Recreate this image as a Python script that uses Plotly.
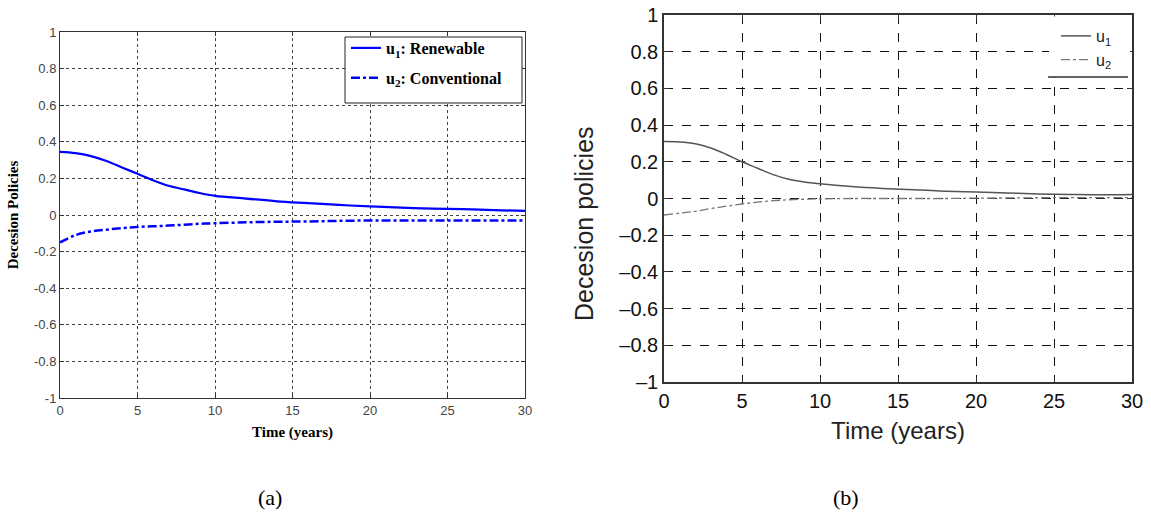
import plotly.graph_objects as go

# ---- data ----
t = [0, 1, 2, 3, 4, 5, 6, 7, 8, 9, 10, 12, 14, 16, 18, 20, 22, 24, 26, 28, 30]

a_u1 = [0.345, 0.338, 0.322, 0.295, 0.26, 0.225, 0.19, 0.16, 0.14, 0.12, 0.105,
        0.09, 0.075, 0.065, 0.055, 0.047, 0.04, 0.035, 0.032, 0.027, 0.022]
a_u2 = [-0.15, -0.11, -0.09, -0.08, -0.072, -0.065, -0.062, -0.058, -0.053, -0.048, -0.045,
        -0.04, -0.037, -0.035, -0.032, -0.03, -0.03, -0.03, -0.03, -0.03, -0.03]

b_u1 = [0.31, 0.308, 0.298, 0.275, 0.24, 0.20, 0.165, 0.13, 0.105, 0.09, 0.08,
        0.065, 0.055, 0.048, 0.04, 0.035, 0.03, 0.025, 0.022, 0.02, 0.022]
b_u2 = [-0.09, -0.08, -0.07, -0.055, -0.042, -0.03, -0.02, -0.012, -0.007, -0.004, -0.002,
        0.0, 0.0, 0.0, 0.0, 0.002, 0.003, 0.004, 0.005, 0.005, 0.005]

x_ticks = [0, 5, 10, 15, 20, 25, 30]
y_ticks = [-1, -0.8, -0.6, -0.4, -0.2, 0, 0.2, 0.4, 0.6, 0.8, 1]
y_ticktext = ["-1", "-0.8", "-0.6", "-0.4", "-0.2", "0", "0.2", "0.4", "0.6", "0.8", "1"]
y_ticktext_b = ["\u20131", "\u20130.8", "\u20130.6", "\u20130.4", "\u20130.2", "0", "0.2", "0.4", "0.6", "0.8", "1"]

# the page body margin is removed (see post_script), so the figure fills the window
OFF = 0
W, H = 1151 - OFF, 518 - OFF

def px_x(p):
    return (p - OFF) / W

def px_y(p):
    return 1 - (p - OFF) / H

fig = go.Figure()

# (a)
fig.add_trace(go.Scatter(x=t, y=a_u1, mode="lines", line=dict(color="#0000ff", width=2.2, shape="spline"),
                         name="<b>u<sub>1</sub>: Renewable</b>", xaxis="x", yaxis="y",
                         legend="legend", legendgroup="a1"))
fig.add_trace(go.Scatter(x=t, y=a_u2, mode="lines", line=dict(color="#0000ff", width=2.5, dash="dashdot", shape="spline"),
                         name="<b>u<sub>2</sub>: Conventional</b>", xaxis="x", yaxis="y",
                         legend="legend", legendgroup="a2"))
# (b)
fig.add_trace(go.Scatter(x=t, y=b_u1, mode="lines", line=dict(color="#555555", width=1.5, shape="spline"),
                         name="u<sub>1</sub>", xaxis="x2", yaxis="y2", legend="legend2"))
fig.add_trace(go.Scatter(x=t, y=b_u2, mode="lines", line=dict(color="#777777", width=1.3, dash="dashdot", shape="spline"),
                         name="u<sub>2</sub>", xaxis="x2", yaxis="y2", legend="legend2"))

left_font = dict(family="Liberation Sans, Arial", size=13, color="#444444")
right_font = dict(family="Liberation Sans, Arial", size=20, color="#111111")

common_left = dict(showgrid=True, gridcolor="#444444", griddash="dot", gridwidth=1,
                   showline=True, linecolor="#333333", linewidth=1, mirror="ticks",
                   ticks="inside", ticklen=4, tickcolor="#333333",
                   tickfont=left_font, zeroline=False, automargin=False,
                   ticklabeloverflow="allow")
common_right = dict(showgrid=True, gridcolor="#111111", griddash="dash", gridwidth=1,
                    showline=True, linecolor="#333333", linewidth=1.5, mirror="ticks",
                    ticks="inside", ticklen=5, tickcolor="#333333",
                    tickfont=right_font, zeroline=False, automargin=False,
                    ticklabeloverflow="allow")

fig.update_layout(
    width=W, height=H,
    margin=dict(l=0, r=0, t=0, b=0),
    paper_bgcolor="white", plot_bgcolor="white",
    xaxis=dict(domain=[px_x(60), px_x(525)], range=[0, 30], tickvals=x_ticks, anchor="y",
               title=dict(text="<b>Time (years)</b>", font=dict(family="Liberation Serif, Times New Roman", size=15, color="#000000"), standoff=9),
               **common_left),
    yaxis=dict(domain=[px_y(398), px_y(32)], range=[-1, 1], tickvals=y_ticks, ticktext=y_ticktext, anchor="x",
               title=dict(text="<b>Decesion Policies</b>", font=dict(family="Liberation Serif, Times New Roman", size=15, color="#000000"), standoff=11),
               **common_left),
    xaxis2=dict(domain=[px_x(664), px_x(1132)], range=[0, 30], tickvals=x_ticks, anchor="y2",
                title=dict(text="Time (years)", font=dict(family="Liberation Sans, Arial", size=24, color="#222222"), standoff=11),
                **common_right),
    yaxis2=dict(domain=[px_y(382), px_y(15)], range=[-1, 1], tickvals=y_ticks, ticktext=y_ticktext_b, anchor="x2",
                **common_right),
    legend=dict(x=px_x(346), y=px_y(31), xanchor="left", yanchor="top",
                bgcolor="rgba(255,255,255,0)", borderwidth=0,
                font=dict(family="Liberation Serif, Times New Roman", size=16, color="#000000"),
                tracegroupgap=6, itemwidth=30),
    legend2=dict(x=px_x(1056), y=px_y(19), xanchor="left", yanchor="top",
                 bgcolor="rgba(255,255,255,0)", borderwidth=0,
                 font=dict(family="Liberation Sans, Arial", size=16, color="#222222"),
                 tracegroupgap=0, itemwidth=30),
    showlegend=True,
)

# y-axis title of (b), sitting below the axis centre as in the original
fig.add_annotation(text="Decesion policies", textangle=-90, x=px_x(584), y=px_y(224),
                   xref="paper", yref="paper", showarrow=False, xanchor="center", yanchor="middle",
                   font=dict(family="Liberation Sans, Arial", size=25, color="#222222"))

# legend box of (a)
fig.add_shape(type="rect", xref="paper", yref="paper", layer="above",
              x0=px_x(345), x1=px_x(522), y0=px_y(103), y1=px_y(37),
              fillcolor="white", line=dict(color="#222222", width=1))
# legend area of (b): white background plus its bottom edge
fig.add_shape(type="rect", xref="paper", yref="paper", layer="above",
              x0=px_x(1049), x1=px_x(1130), y0=px_y(77), y1=px_y(16.5),
              fillcolor="white", line=dict(width=0))
fig.add_shape(type="line", xref="paper", yref="paper", layer="above",
              x0=px_x(1048), x1=px_x(1128), y0=px_y(77), y1=px_y(77),
              line=dict(color="#333333", width=1.5))

# captions
for label, cx in (("(a)", 270), ("(b)", 846)):
    fig.add_annotation(text=label, x=px_x(cx), y=px_y(497), xref="paper", yref="paper",
                       showarrow=False, xanchor="center", yanchor="middle",
                       font=dict(family="Liberation Serif, Times New Roman", size=22, color="#000000"))

fig.write_html("out.html",
               config={"displayModeBar": False},
               post_script="document.body.style.margin='0';document.body.style.overflow='hidden';")
